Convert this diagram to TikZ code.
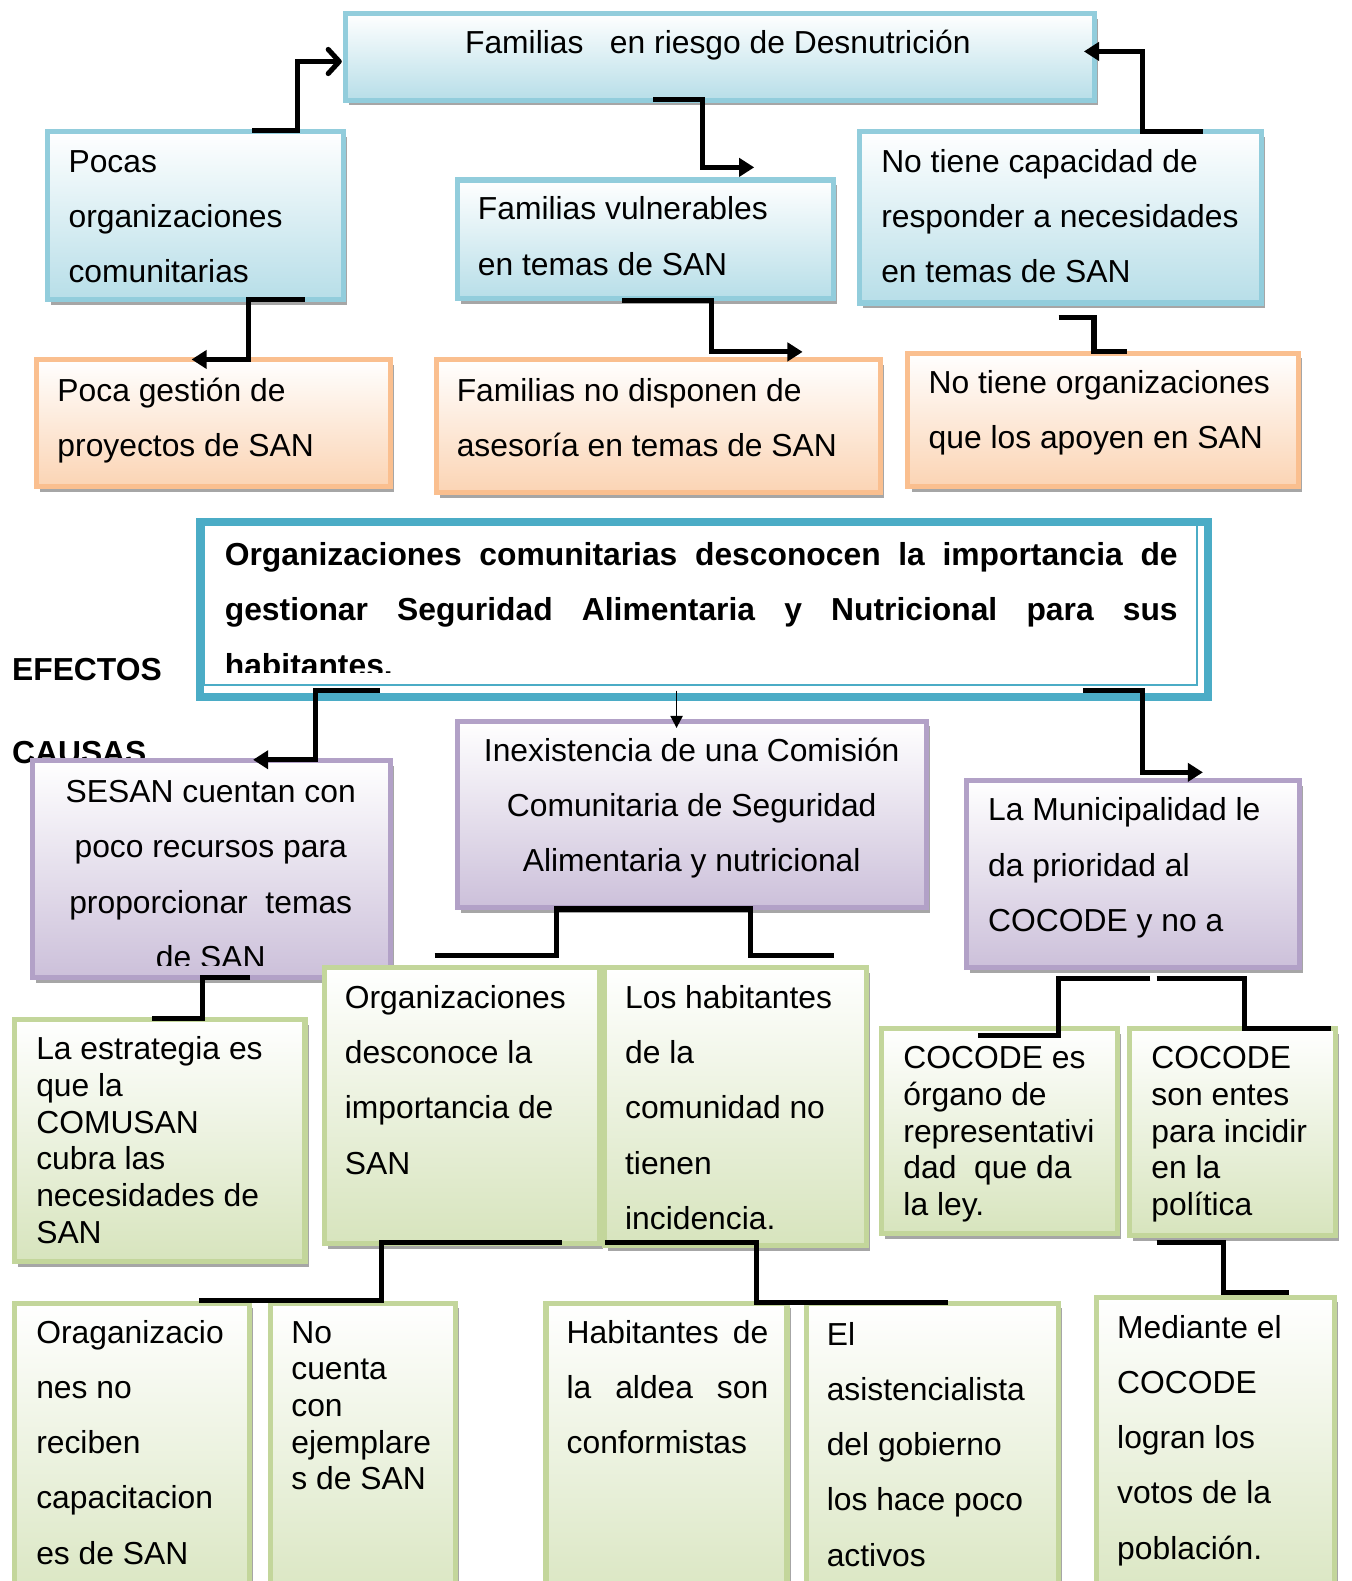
\documentclass[tikz,border=0pt]{standalone}
\usepackage{fontspec}
\setmainfont{Liberation Sans}
\usetikzlibrary{arrows.meta,shadows}
\definecolor{blueB}{HTML}{92CDDC}
\definecolor{blueF}{HTML}{B7DEE8}
\definecolor{orangeB}{HTML}{FABF8F}
\definecolor{orangeF}{HTML}{FBD4B4}
\definecolor{purpleB}{HTML}{B2A1C7}
\definecolor{purpleF}{HTML}{CCC0DA}
\definecolor{greenB}{HTML}{C3D69B}
\definecolor{greenF}{HTML}{D7E4BD}
\definecolor{tealB}{HTML}{4BACC6}
\newcommand\bx[6]{\node[#1, anchor=north west, minimum width={#4-#2-5}, minimum height={#5-#3-5}] (#6) at ({#2+2.5},{#3+2.5}) {};}
\begin{document}
\begin{tikzpicture}[x=1pt,y=-1pt,
  shad/.style={drop shadow={shadow xshift=3.5pt,shadow yshift=-5pt,fill=black!35,opacity=1}},
  boxbase/.style={rectangle, line width=5pt, inner sep=0pt, outer sep=0pt, shad},
  bluebox/.style={boxbase, draw=blueB, top color=white, bottom color=blueF},
  orangebox/.style={boxbase, draw=orangeB, top color=white, bottom color=orangeF},
  purplebox/.style={boxbase, draw=purpleB, top color=white, bottom color=purpleF},
  greenbox/.style={boxbase, draw=greenB, top color=white, bottom color=greenF},
  txt/.style={inner sep=0pt, outer sep=0pt, align=left, font=\fontsize{31.55}{54.8}\selectfont},
  ttxt/.style={txt, font=\fontsize{31.55}{36.4}\selectfont},
  ctxt/.style={txt, align=center},
  btxt/.style={txt, font=\bfseries\fontsize{31.55}{54.8}\selectfont},
  conn/.style={line width=5pt},
  thin/.style={line width=1.8pt},
  tri/.style={-{Triangle[length=15pt,width=18pt]}},
  smalltri/.style={-{Triangle[length=12pt,width=12pt]}},
  barb/.style={-{Straight Barb[length=11pt,width=24pt,round]}},
]
\useasboundingbox (0,0) rectangle (1340,1568);
\fill[white] (0,0) rectangle (1340,1568);
\clip (0,0) rectangle (1340,1568);

% side labels (CAUSAS partly hidden by SESAN box)
\node[btxt, anchor=base west] (efectos) at (12,675) {EFECTOS};
\node[btxt, anchor=base west] (causas) at (12,757) {CAUSAS};

% blue boxes
\bx{bluebox}{340}{11}{1088}{102}{familias}
\bx{bluebox}{45}{128}{343}{300}{pocas}
\bx{bluebox}{451}{176}{829}{299}{vulnerables}
\bx{bluebox}{850}{128}{1254}{303}{capacidad}
% orange boxes
\bx{orangebox}{34}{354}{390}{485}{gestion}
\bx{orangebox}{430}{354}{876}{491}{asesoria}
\bx{orangebox}{898}{348}{1290}{485}{apoyen}
% central box
\node[rectangle, draw=tealB, line width=8pt, fill=white, anchor=north west, minimum width=1000, minimum height=173, inner sep=0pt] (central) at (194,514) {};
\node[rectangle, draw=tealB, line width=2pt, anchor=north west, minimum width=985, minimum height=158.5, inner sep=0pt] (centralin) at (201.5,519.5) {};
% purple boxes
\bx{purplebox}{30}{752}{390}{972}{sesan}
\bx{purplebox}{451}{713}{921}{903}{inexistencia}
\bx{purplebox}{956}{772}{1291}{962}{municipalidad}
% green boxes
\bx{greenbox}{12}{1009}{305}{1254}{estrategia}
\bx{greenbox}{319}{957}{597}{1236}{desconoce}
\bx{greenbox}{597}{957}{862}{1238}{incidencia}
\bx{greenbox}{872}{1018}{1111}{1226}{organo}
\bx{greenbox}{1118}{1018}{1327}{1228}{entes}
\bx{greenbox}{12}{1290}{250}{1610}{capacitacion}
\bx{greenbox}{266}{1290}{454}{1610}{ejemplares}
\bx{greenbox}{539}{1290}{783}{1610}{conformistas}
\bx{greenbox}{797}{1290}{1052}{1610}{asistencialista}
\bx{greenbox}{1085}{1284}{1326}{1610}{votos}

% texts (anchor base = baseline of the LAST line)
\node[txt, anchor=base] (t-familias) at (712,53) {Familias~~~en riesgo de Desnutrición};
\node[txt, anchor=base west] (t-pocas) at (68,280.6) {Pocas\\organizaciones\\comunitarias};
\node[txt, anchor=base west] (t-vulnerables) at (474,272.8) {Familias vulnerables\\en temas de SAN};
\node[txt, anchor=base west] (t-capacidad) at (874,280.6) {No tiene capacidad de\\responder a necesidades\\en temas de SAN};
\node[txt, anchor=base west] (t-gestion) at (57,452.8) {Poca gestión de\\proyectos de SAN};
\node[txt, anchor=base west] (t-asesoria) at (453,452.8) {Familias no disponen de\\asesoría en temas de SAN};
\node[txt, anchor=base west] (t-apoyen) at (921,444.8) {No tiene organizaciones\\que los apoyen en SAN};

\begin{scope}
\clip (203,521) rectangle (1185,666.5);
\node[btxt, anchor=base west] (t-central) at (223,670.6) {\makebox[945pt][s]{Organizaciones comunitarias desconocen la importancia de}\\\makebox[945pt][s]{gestionar Seguridad Alimentaria y Nutricional para sus}\\habitantes.};
\end{scope}

\begin{scope}
\clip (33,755) rectangle (387,958);
\node[ctxt, anchor=base] (t-sesan) at (209,960.4) {SESAN cuentan con\\poco recursos para\\proporcionar~~temas\\de SAN};
\end{scope}
\node[ctxt, anchor=base] (t-inexistencia) at (686,864.6) {Inexistencia de una Comisión\\Comunitaria de Seguridad\\Alimentaria y nutricional};
\node[txt, anchor=base west] (t-municipalidad) at (980,923.6) {La Municipalidad le\\da prioridad al\\COCODE y no a};

\node[ttxt, anchor=base west] (t-estrategia) at (36,1233) {La estrategia es\\que la\\COMUSAN\\cubra las\\necesidades de\\SAN};
\node[txt, anchor=base west] (t-desconoce) at (342,1164.4) {Organizaciones\\desconoce la\\importancia de\\SAN};
\node[txt, anchor=base west] (t-incidencia) at (620,1219.2) {Los habitantes\\de la\\comunidad no\\tienen\\incidencia.};
\node[ttxt, anchor=base west] (t-organo) at (896,1205.6) {COCODE es\\órgano de\\representativi\\dad~~que da\\la ley.};
\node[ttxt, anchor=base west] (t-entes) at (1142,1205.6) {COCODE\\son entes\\para incidir\\en la\\política};
\node[txt, anchor=base west] (t-capacitacion) at (36,1551.2) {Oraganizacio\\nes no\\reciben\\capacitacion\\es de SAN};
\node[ttxt, anchor=base west] (t-ejemplares) at (289,1477.6) {No\\cuenta\\con\\ejemplare\\s de SAN};
\node[txt, anchor=base west] (t-conformistas) at (562,1441.6) {\makebox[200pt][s]{Habitantes de}\\\makebox[200pt][s]{la aldea son}\\conformistas};
\node[txt, anchor=base west] (t-asistencialista) at (820,1553.2) {El\\asistencialista\\del gobierno\\los hace poco\\activos};
\node[txt, anchor=base west] (t-votos) at (1108,1546.2) {Mediante el\\COCODE\\logran los\\votos de la\\población.};

% connector end points
\coordinate (c1s) at (250,129.5);   \coordinate (c1e) at (339,61);
\coordinate (c2s) at (648,99);      \coordinate (c2e) at (748,166);
\coordinate (c3s) at (1193,130);    \coordinate (c3e) at (1075,51);
\coordinate (c4s) at (302,297);     \coordinate (c4e) at (190,356.5);
\coordinate (c5s) at (617,298);     \coordinate (c5e) at (796,349);
\coordinate (c6s) at (1050,315);    \coordinate (c6e) at (1118,348.5);
\coordinate (c7s) at (377,684.5);   \coordinate (c7e) at (251,753.5);
\coordinate (c8s) at (671,685);     \coordinate (c8e) at (671,722);
\coordinate (c9s) at (1074,684.5);  \coordinate (c9e) at (1193,766);
\coordinate (c10s) at (431,948);    \coordinate (c10e) at (827,948);
\coordinate (c11s) at (248,969);    \coordinate (c11e) at (151,1010);
\coordinate (c12s) at (1141,970);   \coordinate (c12e) at (970,1027);
\coordinate (c12t) at (1147,970);   \coordinate (c12f) at (1320,1020);
\coordinate (c13s) at (557,1232);   \coordinate (c13e) at (197,1290);
\coordinate (c14s) at (600,1232);   \coordinate (c14e) at (940,1292);
\coordinate (c15s) at (1147,1232);  \coordinate (c15e) at (1278,1282);

% connectors
\draw[conn, barb] (c1s) -- (295,129.5) -- (295,61) -- (c1e);
\draw[conn, tri] (c2s) -- (697,99) -- (697,166) -- (c2e);
\draw[conn, tri] (c3s) -- (1133,130) -- (1133,51) -- (c3e);
\draw[conn, tri] (c4s) -- (246,297) -- (246,356.5) -- (c4e);
\draw[conn, tri] (c5s) -- (706,298) -- (706,349) -- (c5e);
\draw[conn] (c6s) -- (1085,315) -- (1085,348.5) -- (c6e);
\draw[conn, tri] (c7s) -- (313,684.5) -- (313,753.5) -- (c7e);
\draw[thin, smalltri] (c8s) -- (c8e);
\draw[conn, tri] (c9s) -- (1133,684.5) -- (1133,766) -- (c9e);
\draw[conn] (c10s) -- (552,948) -- (552,901.5) -- (744,901.5) -- (744,948) -- (c10e);
\draw[conn] (c11s) -- (201,969) -- (201,1010) -- (c11e);
\draw[conn] (c12s) -- (1050,970) -- (1050,1027) -- (c12e);
\draw[conn] (c12t) -- (1234,970) -- (1234,1020) -- (c12f);
\draw[conn] (c13s) -- (378,1232) -- (378,1290) -- (c13e);
\draw[conn] (c14s) -- (750,1232) -- (750,1292) -- (c14e);
\draw[conn] (c15s) -- (1213,1232) -- (1213,1282) -- (c15e);
\end{tikzpicture}
\end{document}
